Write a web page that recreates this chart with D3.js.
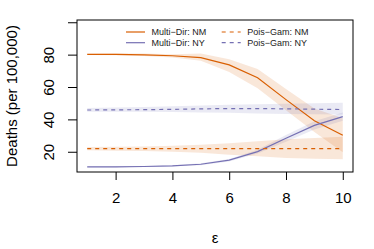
<!DOCTYPE html>
<html><head><meta charset="utf-8">
<script src="https://cdn.jsdelivr.net/npm/d3@7"></script>
<style>body{margin:0;background:#fff}svg{display:block}</style>
</head><body>
<script>
const eps = [1,2,3,4,5,6,7,8,9,10];
const mdNM = [80.5,80.5,80.2,79.6,78.5,74,66,52.5,39.5,30.5];
const mdNMlo = [80.1,80,79.5,78.5,76.5,69.5,59.5,46,32.5,20];
const mdNMhi = [80.9,81,81,80.6,81,77.5,71.5,59,47,41];
const mdNY = [11,11,11.2,11.6,12.6,15.1,20.4,28.6,36.6,42];
const mdNYlo = [10.8,10.8,11,11.3,12,14.3,19.3,26.5,34,39.5];
const mdNYhi = [11.2,11.3,11.5,12,13.2,15.9,21.5,30.7,39.2,44.5];
const pgNM = [22.2,22.2,22.2,22.2,22.2,22.2,22.2,22.2,22.2,22.2];
const pgNMlo = [21.2,21,20.8,20.3,19.7,18.5,17.5,16.5,16,15.6];
const pgNMhi = [23.2,23.4,23.6,24,24.6,25.5,26.8,28,28.8,29.5];
const pgNY = [46.1,46.2,46.3,46.5,46.8,47,47,46.8,46.6,46.4];
const pgNYlo = [45,45,45,44.8,44.6,44.4,44,43.7,43.5,43.3];
const pgNYhi = [47.3,47.6,48,48.4,48.9,49.3,49.6,49.9,50.3,50.6];
const xTicks = [2,4,6,8,10];
const yTicks = [20,40,60,80,100];
const yTickLabels = ["20","40","60","80",""];
const legendLabels = ["Multi\u2212Dir: NM","Multi\u2212Dir: NY","Pois\u2212Gam: NM","Pois\u2212Gam: NY"];

const W=374,H=249;
const L=77,R=353,T=20,B=172;
const orange="#d95f02", purple="#7570b3";
const svg=d3.select("body").append("svg").attr("width",W).attr("height",H);
const x=d3.scaleLinear().domain([0.64,10.36]).range([L,R]);
const y=d3.scaleLinear().domain([7.8,101.7]).range([B,T]);
const font="'Liberation Sans', Arial, Helvetica, sans-serif";

const area=(lo,hi)=>d3.area().x((d,i)=>x(eps[i])).y0((d,i)=>y(lo[i])).y1((d,i)=>y(hi[i]))(eps);
const line=(v)=>d3.line().x((d,i)=>x(eps[i])).y((d,i)=>y(v[i]))(eps);

const bands=[[mdNMlo,mdNMhi,orange],[mdNYlo,mdNYhi,purple],[pgNMlo,pgNMhi,orange],[pgNYlo,pgNYhi,purple]];
bands.forEach(b=>svg.append("path").attr("d",area(b[0],b[1])).attr("fill",b[2]).attr("fill-opacity",0.15));
const lines=[[mdNM,orange,null],[mdNY,purple,null],[pgNM,orange,"4,4"],[pgNY,purple,"4,4"]];
lines.forEach(l=>svg.append("path").attr("d",line(l[0])).attr("fill","none").attr("stroke",l[1]).attr("stroke-width",1.2).attr("stroke-dasharray",l[2]));

svg.append("rect").attr("x",L).attr("y",T).attr("width",R-L).attr("height",B-T).attr("fill","none").attr("stroke","#000").attr("stroke-width",1);

const xa=svg.append("g").attr("transform",`translate(0,${B})`).call(d3.axisBottom(x).tickValues(xTicks).tickSize(8).tickPadding(12).tickFormat(d3.format("d")));
xa.select(".domain").remove();
xa.selectAll("text").attr("font-family",font).attr("font-size",15).attr("fill","#000");
const ya=svg.append("g").attr("transform",`translate(${L},0)`).call(d3.axisLeft(y).tickValues(yTicks).tickSize(9).tickFormat((d,i)=>yTickLabels[i]));
ya.select(".domain").remove();
ya.selectAll("text").attr("font-family",font).attr("font-size",15).attr("fill","#000")
  .attr("transform",d=>`rotate(-90,${-28},${y(d)})`).attr("x",-28).attr("dy","0.35em").attr("text-anchor","middle")
  .attr("y",d=>y(d)).attr("dy","0.35em");
ya.selectAll(".tick").attr("transform",null);
ya.selectAll(".tick line").attr("y1",d=>y(d)).attr("y2",d=>y(d));

svg.append("text").attr("transform","translate(17,96) rotate(-90)").attr("text-anchor","middle")
  .attr("font-family",font).attr("font-size",15).text("Deaths (per 100,000)");
svg.append("text").attr("x",215).attr("y",243).attr("text-anchor","middle")
  .attr("font-family",font).attr("font-size",15).text("\u03b5");

const lg=[[126,32,orange,null],[126,42.7,purple,null],[221.7,32,orange,"4,4"],[221.7,42.7,purple,"4,4"]];
lg.forEach((g,i)=>{
  svg.append("line").attr("x1",g[0]).attr("x2",g[0]+19).attr("y1",g[1]).attr("y2",g[1]).attr("stroke",g[2]).attr("stroke-width",1.2).attr("stroke-dasharray",g[3]);
  svg.append("text").attr("x",g[0]+25.5).attr("y",g[1]).attr("dy","0.35em").attr("font-family",font).attr("font-size",9).attr("fill","#222").text(legendLabels[i]);
});
</script>
</body></html>
